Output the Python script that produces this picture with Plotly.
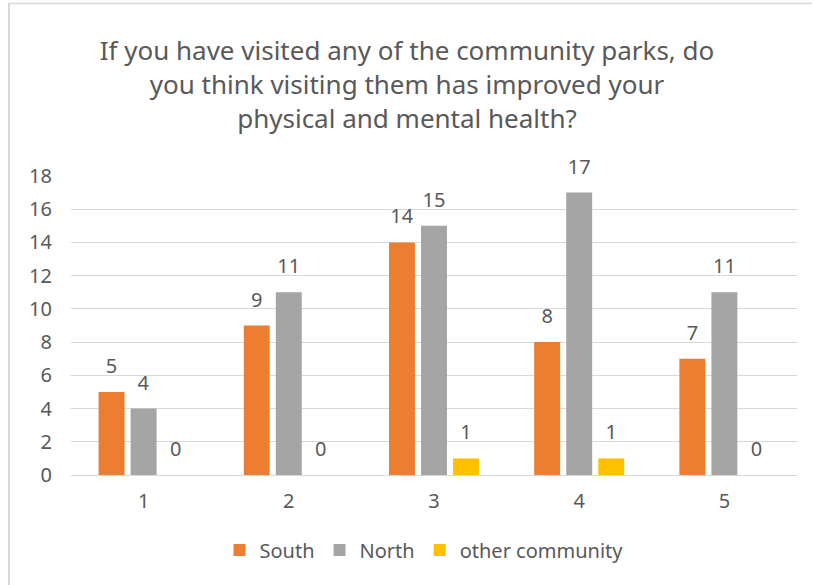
import plotly.graph_objects as go

categories = ["1", "2", "3", "4", "5"]
south = [5, 9, 14, 8, 7]
north = [4, 11, 15, 17, 11]
other = [0, 0, 1, 1, 0]
y_ticks = [0, 2, 4, 6, 8, 10, 12, 14, 16, 18]
title_text = ("If you have visited any of the community parks, do<br>"
              "you think visiting them has improved your<br>"
              "physical and mental health?")

FONT = "Noto Sans"
GREY_TXT = "#595959"
W, H = 814, 585
L, R, T, B = 71, 17, 176, 110
PW, PH = W - L - R, H - T - B

fig = go.Figure()
for name, vals, color in [("South", south, "#ED7D31"),
                          ("North", north, "#A5A5A5"),
                          ("other community", other, "#FFC000")]:
    fig.add_trace(go.Bar(
        x=categories, y=vals, name=name, marker_color=color,
        marker_line_width=0,
        text=vals,
        texttemplate="<span style='font-size:20px'>%{y}</span><br> ",
        textposition="outside",
        textfont=dict(size=10, color=GREY_TXT, family=FONT),
        cliponaxis=False,
    ))

fig.update_layout(
    width=W, height=H,
    paper_bgcolor="white", plot_bgcolor="white",
    margin=dict(l=L, r=R, t=T, b=B),
    barmode="group", bargap=0.338, bargroupgap=0.19,
    font=dict(family=FONT, color=GREY_TXT, size=20),
    title=dict(text=title_text, x=0.5, xanchor="center", xref="container",
               y=1 - 60 / H, yanchor="middle", yref="container",
               font=dict(size=26, color=GREY_TXT, family=FONT)),
    legend=dict(orientation="h", x=(424 - L) / PW, xanchor="center",
                y=-(550 - 475) / PH,
                yanchor="middle", font=dict(size=20, color=GREY_TXT),
                itemwidth=30, traceorder="normal"),
    showlegend=True,
)
fig.update_yaxes(range=[0, 18], tickvals=y_ticks, showgrid=True,
                 gridcolor="#D9D9D9", gridwidth=1, zeroline=True,
                 zerolinecolor="#D9D9D9", zerolinewidth=1, showline=False,
                 ticks="", ticklabelstandoff=18,
                 tickfont=dict(size=20, color=GREY_TXT))
fig.update_xaxes(showgrid=False, showline=False, ticks="",
                 tickfont=dict(size=20, color=GREY_TXT), ticklabelstandoff=12)

# chart frame (top and left edges visible in the reference)
fig.add_shape(type="line", xref="paper", yref="paper",
              x0=(8 - L) / PW, x1=(812 - L) / PW,
              y0=(T + PH - 3.5) / PH, y1=(T + PH - 3.5) / PH,
              line=dict(color="#D9D9D9", width=1.5))
fig.add_shape(type="line", xref="paper", yref="paper",
              x0=(9 - L) / PW, x1=(9 - L) / PW,
              y0=(T + PH - 3) / PH, y1=-(H - T - PH) / PH,
              line=dict(color="#D9D9D9", width=2))

fig.write_html("out.html", config={"displayModeBar": False},
               post_script="document.body.style.margin='0';")
